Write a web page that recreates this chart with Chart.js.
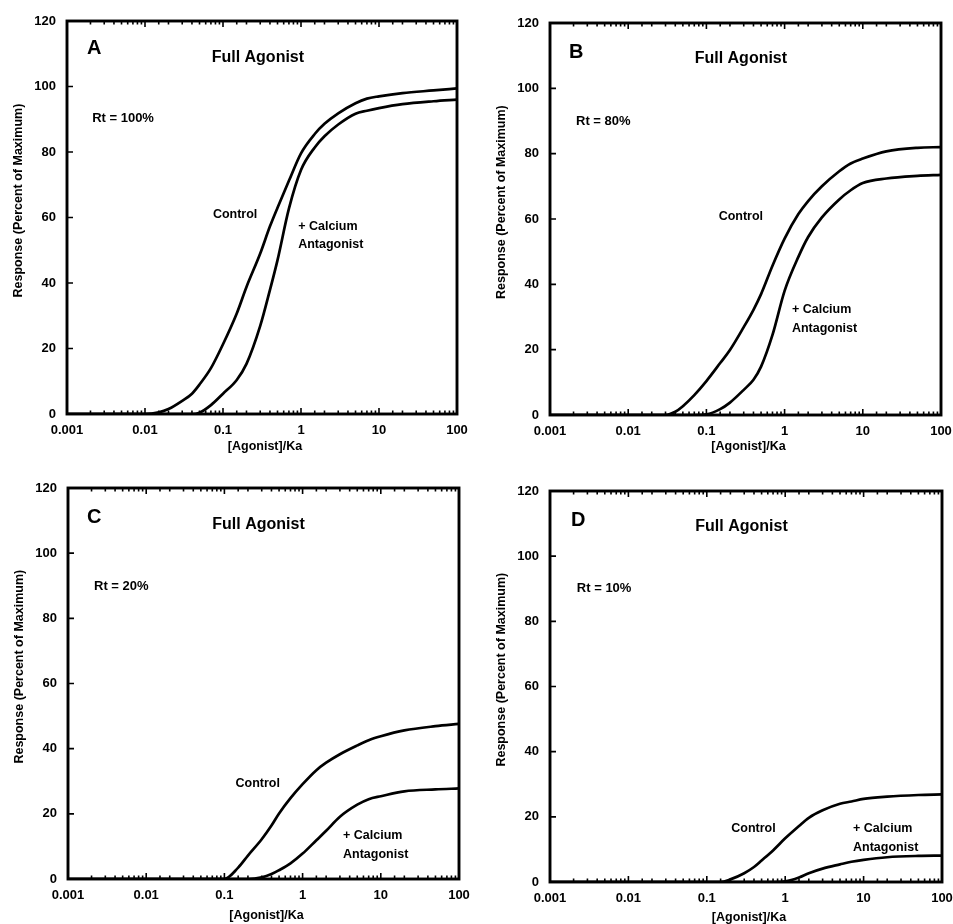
<!DOCTYPE html>
<html><head><meta charset="utf-8">
<script src="https://cdn.jsdelivr.net/npm/chart.js@4.4.1/dist/chart.umd.min.js"></script>
<style>
html,body{margin:0;padding:0;background:#fff;}
#wrap{position:relative;width:953px;height:924px;background:#fff;}
canvas{position:absolute;}
</style></head><body>
<div id="wrap">
<canvas id="cA" width="476" height="462" style="left:0;top:0"></canvas>
<canvas id="cB" width="477" height="462" style="left:476px;top:0"></canvas>
<canvas id="cC" width="476" height="462" style="left:0;top:462px"></canvas>
<canvas id="cD" width="477" height="462" style="left:476px;top:462px"></canvas>
</div>
<script>
// ---- data ----
const xValues = [0.001, 0.002, 0.005, 0.01, 0.015, 0.02, 0.03, 0.04, 0.05, 0.07, 0.1, 0.15, 0.2, 0.3, 0.4, 0.5, 0.7, 1, 1.5, 2, 3, 5, 7, 10, 20, 50, 100];
const controlA = [0,0,0,0,0.5,1.5,4,6.2,9,14,21.3,30.7,38.8,49,57.3,63,71.2,79.6,85.5,88.6,91.8,94.9,96.3,97,98,98.8,99.4];
const antagonistA = [0,0,0,0,0,0,0,0,0.4,2.7,6.2,10.4,15.3,26.9,37.9,47,62.7,74.5,81.4,84.8,88.4,91.7,92.6,93.4,94.6,95.5,96];
const controlB = [0,0,0,0,0,0,0,1,2.7,6.1,10.4,15.9,19.9,26.9,32.2,37,45.7,54,61.5,65.5,70,74.6,77,78.5,80.7,81.8,82];
const antagonistB = [0,0,0,0,0,0,0,0,0,0,0.2,1.8,3.8,7.7,10.8,14.8,24.5,38,48.4,54.5,60.5,66,68.8,71,72.4,73.2,73.5];
const controlC = [0,0,0,0,0,0,0,0,0,0,0,3.5,7.2,12.2,16.4,20.1,24.8,29.1,33.4,35.7,38.3,41,42.6,43.8,45.6,46.9,47.6];
const antagonistC = [0,0,0,0,0,0,0,0,0,0,0,0,0,0.5,1.5,2.7,4.8,7.8,11.9,14.8,19.1,22.8,24.5,25.4,26.9,27.5,27.8];
const controlD = [0,0,0,0,0,0,0,0,0,0,0,0,0.8,2.7,4.6,6.6,9.7,13.4,17.2,19.7,22,24,24.7,25.5,26.2,26.7,26.9];
const antagonistD = [0,0,0,0,0,0,0,0,0,0,0,0,0,0,0,0,0,0.2,1.4,2.7,4.1,5.4,6.2,6.8,7.6,8,8.1];
const xTickLabels = ['0.001','0.01','0.1','1','10','100'];
const yTickValues = [0,20,40,60,80,100,120];
const panelLetters = ['A','B','C','D'];
const panelTitle = 'Full Agonist';
const rtLabels = ['Rt = 100%','Rt = 80%','Rt = 20%','Rt = 10%'];
const seriesNames = ['Control', '+ Calcium', 'Antagonist'];
const xAxisTitle = '[Agonist]/Ka';
const yAxisTitle = 'Response (Percent of Maximum)';

// ---- layout (annotation anchors in data units, sizes in px) ----
const FONT = '"Liberation Sans", Arial, Helvetica, sans-serif';
const panels = [
  {id:'cA', control:controlA, antag:antagonistA, idx:0, top:21, right:19, yw:67, xh:48, xt:33,
   pos:{letter:[0.0018,111.5], title:[0.28,108.7], rt:[0.0021,90.4], control:[0.143,60.8], calc:[0.92,57.1], ant:[0.92,51.6]}},
  {id:'cB', control:controlB, antag:antagonistB, idx:1, top:23, right:12, yw:74, xh:47, xt:32,
   pos:{letter:[0.00175,111], title:[0.276,109], rt:[0.00215,90], control:[0.276,60.7], calc:[1.24,32.4], ant:[1.24,26.6]}},
  {id:'cC', control:controlC, antag:antagonistC, idx:2, top:26, right:17, yw:68, xh:45, xt:37,
   pos:{letter:[0.00175,111], title:[0.273,108.7], rt:[0.00215,89.7], control:[0.267,29.4], calc:[3.29,13.2], ant:[3.29,7.4]}},
  {id:'cD', control:controlD, antag:antagonistD, idx:3, top:29, right:11, yw:74, xh:42, xt:36,
   pos:{letter:[0.00185,110.8], title:[0.277,109], rt:[0.0022,90.2], control:[0.394,16.3], calc:[7.33,16.3], ant:[7.33,10.7]}}
];

function isDecade(v){ const l = Math.log10(v); return Math.abs(l - Math.round(l)) < 1e-6; }

const decoPlugin = {
  id: 'deco',
  afterDraw(chart) {
    const p = chart.options.plugins.deco.panel;
    const ctx = chart.ctx, a = chart.chartArea, xs = chart.scales.x, ys = chart.scales.y;
    ctx.save();
    ctx.strokeStyle = '#000';
    ctx.lineWidth = 1.6;
    ctx.beginPath();
    xs.ticks.forEach(t => {
      const px = xs.getPixelForValue(t.value);
      const len = isDecade(t.value) ? 6 : 3.5;
      ctx.moveTo(px, a.bottom); ctx.lineTo(px, a.bottom - len);
      ctx.moveTo(px, a.top); ctx.lineTo(px, a.top + len);
    });
    ys.ticks.forEach(t => {
      const py = ys.getPixelForValue(t.value);
      ctx.moveTo(a.left, py); ctx.lineTo(a.left + 6, py);
    });
    ctx.stroke();
    ctx.lineWidth = 2.9;
    ctx.strokeRect(a.left, a.top, a.right - a.left, a.bottom - a.top);

    ctx.fillStyle = '#000';
    ctx.textBaseline = 'middle';
    const put = (txt, pos, size, align) => {
      ctx.font = 'bold ' + size + 'px ' + FONT;
      ctx.textAlign = align;
      ctx.fillText(txt, xs.getPixelForValue(pos[0]), ys.getPixelForValue(pos[1]));
    };
    put(panelLetters[p.idx], p.pos.letter, 20, 'left');
    put(panelTitle, p.pos.title, 16, 'center');
    put(rtLabels[p.idx], p.pos.rt, 13, 'left');
    put(seriesNames[0], p.pos.control, 12.5, 'center');
    put(seriesNames[1], p.pos.calc, 12.5, 'left');
    put(seriesNames[2], p.pos.ant, 12.5, 'left');

    // axis titles
    ctx.font = 'bold 12.5px ' + FONT;
    ctx.textAlign = 'center';
    ctx.fillText(xAxisTitle, (a.left + a.right) / 2 + 3, a.bottom + p.xt);
    ctx.translate(a.left - 48, a.top + (a.bottom - a.top) * 0.457);
    ctx.rotate(-Math.PI / 2);
    ctx.fillText(yAxisTitle, 0, 0);
    ctx.restore();
  }
};

panels.forEach(p => {
  const mk = (arr) => xValues.map((v, i) => ({x: v, y: arr[i]}));
  const ds = (label, arr) => ({label, data: mk(arr), borderColor:'#000', backgroundColor:'#000',
    borderWidth: 2.7, pointRadius: 0, fill: false, cubicInterpolationMode: 'monotone'});
  new Chart(document.getElementById(p.id), {
    type: 'line',
    data: { datasets: [ds('Control', p.control), ds('+ Calcium Antagonist', p.antag)] },
    plugins: [decoPlugin],
    options: {
      responsive: false,
      animation: false,
      events: [],
      layout: { padding: { left: 0, top: p.top, right: p.right, bottom: 0 } },
      plugins: { legend: { display: false }, tooltip: { enabled: false }, deco: { panel: p } },
      scales: {
        x: {
          type: 'logarithmic', min: 0.001, max: 100,
          afterFit: s => { s.height = p.xh; },
          grid: { display: false, drawTicks: true, tickLength: 9 },
          border: { display: false },
          ticks: {
            autoSkip: false, maxRotation: 0, minRotation: 0, padding: 0, color: '#000',
            font: { family: FONT, size: 13, weight: 'bold' },
            callback: (v) => isDecade(v) ? xTickLabels[Math.round(Math.log10(v)) + 3] : ''
          }
        },
        y: {
          type: 'linear', min: 0, max: 120,
          afterFit: s => { s.width = p.yw; },
          afterBuildTicks: s => { s.ticks = yTickValues.map(v => ({value: v})); },
          grid: { display: false, drawTicks: false },
          border: { display: false },
          ticks: { padding: 11, color: '#000', font: { family: FONT, size: 13, weight: 'bold' } }
        }
      }
    }
  });
});
</script>
</body></html>
